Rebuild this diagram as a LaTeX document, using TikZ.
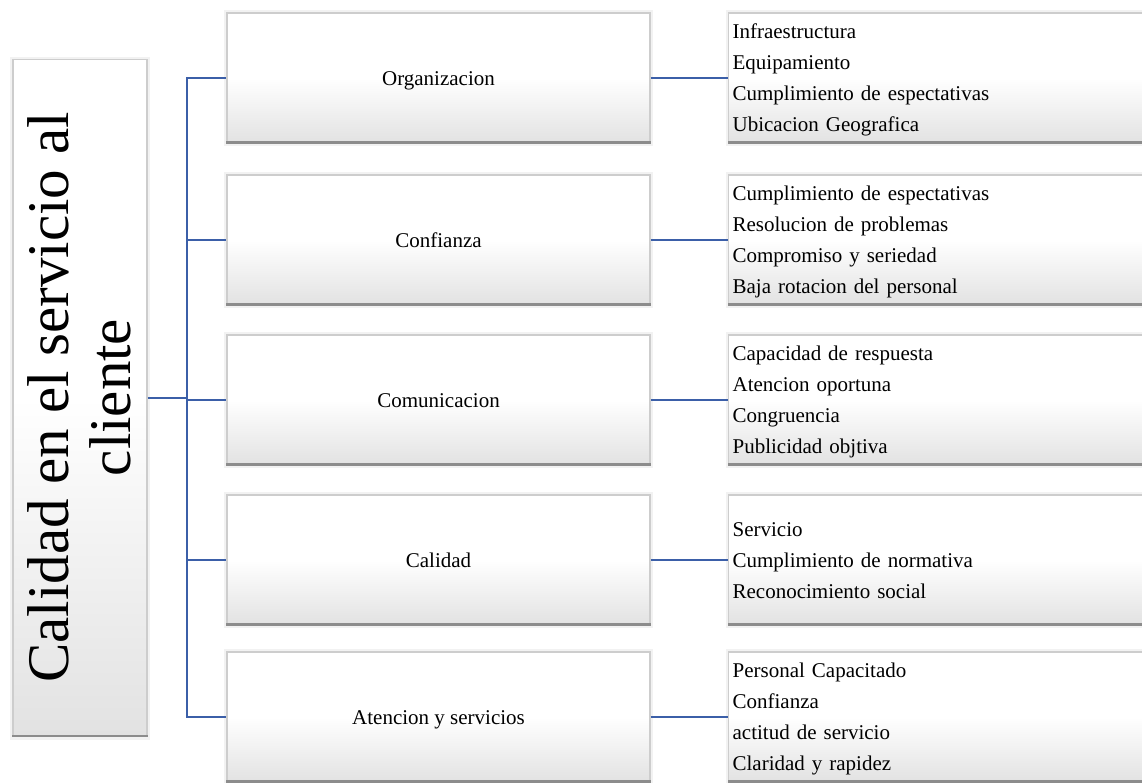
\documentclass[tikz,border=0pt]{standalone}
\usepackage{fontspec}
\setmainfont{Liberation Serif}
\definecolor{boxbot}{RGB}{226,226,226}
\definecolor{linkblue}{RGB}{59,95,168}
\definecolor{edgegray}{RGB}{205,205,205}
\definecolor{bandgray}{RGB}{140,140,140}
\pgfdeclareverticalshading{boxshade}{100bp}{color(0bp)=(boxbot); color(25bp)=(boxbot); color(50bp)=(white); color(100bp)=(white)}
\tikzset{
  boxbase/.style={rectangle, inner sep=0pt, draw=edgegray, line width=1.2pt,
    shading=boxshade,
    preaction={draw=black!5, line width=6pt}},
  struts/.style={execute at begin node={\rule{0pt}{21pt}},
    execute at end node={\rule[-7pt]{0pt}{7pt}}},
  midbox/.style={boxbase, struts, minimum width=423pt, minimum height=130pt,
    font=\fontsize{21}{31}\selectfont},
  rightbox/.style={boxbase, struts, minimum height=130pt, text width=432pt, inner xsep=4pt,
    align=left, font=\fontsize{21}{31}\selectfont},
  rootbox/.style={boxbase, minimum width=134pt, minimum height=677pt},
  roottext/.style={rotate=90, inner sep=0pt, align=center,
    font=\fontsize{59}{62}\selectfont},
  link/.style={draw=linkblue, line width=1.6pt},
  band/.style={draw=bandgray, line width=2.6pt},
}
\newcommand\bottomband[1]{\draw[band] ([yshift=1.3pt]#1.south west) -- ([yshift=1.3pt]#1.south east);}
\begin{document}
\begin{tikzpicture}[x=1pt,y=-1pt]
\useasboundingbox (0,0) rectangle (1142,782);
\clip (0,0) rectangle (1142,782);
\fill[white] (0,0) rectangle (1142,782);

% root
\node[rootbox] (root) at (80,398) {};
\bottomband{root}
\node[roottext] (rt) at (79,397.5) {Calidad en el servicio al\\cliente};

% middle boxes
\node[midbox] (m1) at (438.5,78) {Organizacion};
\node[midbox] (m2) at (438.5,240) {Confianza};
\node[midbox] (m3) at (438.5,400) {Comunicacion};
\node[midbox] (m4) at (438.5,560) {Calidad};
\node[midbox] (m5) at (438.5,717) {Atencion y servicios};
\foreach \i in {1,...,5}{\bottomband{m\i}}

% right boxes
\node[rightbox, anchor=west] (r1) at (728,78) {Infraestructura\\Equipamiento\\Cumplimiento de espectativas\\Ubicacion Geografica};
\node[rightbox, anchor=west] (r2) at (728,240) {Cumplimiento de espectativas\\Resolucion de problemas\\Compromiso y seriedad\\Baja rotacion del personal};
\node[rightbox, anchor=west] (r3) at (728,400) {Capacidad de respuesta\\Atencion oportuna\\Congruencia\\Publicidad objtiva};
\node[rightbox, anchor=west] (r4) at (728,560) {Servicio\\Cumplimiento de normativa\\Reconocimiento social};
\node[rightbox, anchor=west] (r5) at (728,717) {Personal Capacitado\\Confianza\\actitud de servicio\\Claridad y rapidez};
\foreach \i in {1,...,5}{\bottomband{r\i}}

% connectors
\coordinate (j) at (187,398);
\draw[link] (root.east) -- (j);
\foreach \i in {1,...,5}{
  \draw[link] (j) |- (m\i.west);
  \draw[link] (m\i.east) -- (r\i.west);
}
\end{tikzpicture}
\end{document}
